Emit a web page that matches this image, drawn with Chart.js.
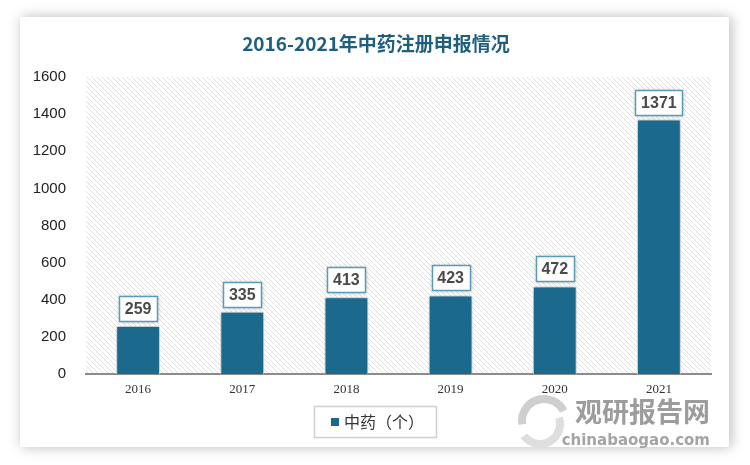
<!DOCTYPE html>
<html>
<head>
<meta charset="utf-8">
<script src="https://cdn.jsdelivr.net/npm/chart.js@4/dist/chart.umd.min.js"></script>
<style>
  html, body { margin: 0; padding: 0; background: #fff; }
  #wrap { position: relative; width: 750px; height: 465px; }
</style>
</head>
<body>
<div id="wrap"><canvas id="chart" width="750" height="465"></canvas></div>
<script>
// 数据
const years = ['2016', '2017', '2018', '2019', '2020', '2021'];
const tcmValues = [259, 335, 413, 423, 472, 1371];
const yTicks = [0, 200, 400, 600, 800, 1000, 1200, 1400, 1600];

const chartTitle = '2016-2021年中药注册申报情况';
const seriesName = '中药（个）';
const barColor = '#1b6a8e';

// 斜线底纹
function makeHatch() {
    const s = 5;
    const c = document.createElement('canvas');
    c.width = s; c.height = s;
    const g = c.getContext('2d');
    g.fillStyle = '#ffffff';
    g.fillRect(0, 0, s, s);
    g.strokeStyle = '#e0e0e0';
    g.lineWidth = 1;
    [-s, 0, s].forEach(x0 => {
        g.beginPath();
        g.moveTo(x0, 0);
        g.lineTo(x0 + s, s);
        g.stroke();
    });
    return c;
}

const backgroundPlugin = {
    id: 'background',
    beforeDraw(chart) {
        const ctx = chart.ctx;
        const a = chart.chartArea;
        ctx.save();
        ctx.fillStyle = '#ffffff';
        ctx.fillRect(0, 0, chart.width, chart.height);
        // 卡片阴影
        ctx.shadowColor = 'rgba(0,0,0,0.28)';
        ctx.shadowBlur = 12;
        ctx.shadowOffsetX = 2;
        ctx.fillRect(20, 17, 709, 430);
        ctx.shadowColor = 'transparent';
        ctx.fillStyle = ctx.createPattern(makeHatch(), 'repeat');
        ctx.fillRect(a.left, a.top, a.right - a.left, a.bottom - a.top);
        ctx.restore();
    }
};

const shadowPlugin = {
    id: 'barShadow',
    beforeDatasetDraw(chart) {
        const ctx = chart.ctx;
        ctx.save();
        ctx.shadowColor = 'rgba(0,0,0,0.35)';
        ctx.shadowBlur = 6;
    },
    afterDatasetDraw(chart) {
        chart.ctx.restore();
    }
};

const labelPlugin = {
    id: 'valueLabels',
    afterDatasetsDraw(chart) {
        const ctx = chart.ctx;
        const meta = chart.getDatasetMeta(0);
        ctx.save();
        ctx.font = 'bold 16px "Liberation Sans", Arial, sans-serif';
        ctx.textAlign = 'center';
        ctx.textBaseline = 'middle';
        meta.data.forEach((bar, i) => {
            const txt = String(tcmValues[i]);
            const w = Math.round(ctx.measureText(txt).width) + 11;
            const h = 25;
            const x = Math.round(bar.x - w / 2) + 0.5;
            const y = Math.round(bar.y - 5 - h) + 0.5;
            ctx.shadowColor = 'rgba(0,0,0,0.3)';
            ctx.shadowBlur = 5;
            ctx.fillStyle = '#ffffff';
            ctx.fillRect(x, y, w, h);
            ctx.shadowColor = 'transparent';
            ctx.strokeStyle = '#5b9bb8';
            ctx.lineWidth = 1.5;
            ctx.strokeRect(x, y, w, h);
            ctx.fillStyle = '#4a4a4a';
            ctx.fillText(txt, bar.x, y + h / 2 + 1);
        });
        ctx.restore();
    }
};

const decorPlugin = {
    id: 'decor',
    afterDraw(chart) {
        const ctx = chart.ctx;
        ctx.save();
        // 标题
        ctx.fillStyle = '#1e5f80';
        ctx.font = 'bold 19px "Noto Sans CJK SC", sans-serif';
        ctx.textAlign = 'center';
        ctx.textBaseline = 'middle';
        ctx.fillText(chartTitle, 376, 44);

        // 图例
        ctx.strokeStyle = '#d0d0d0';
        ctx.lineWidth = 1.5;
        ctx.strokeRect(314.5, 406.5, 122, 31);
        ctx.fillStyle = barColor;
        ctx.fillRect(331, 418, 8, 8);
        ctx.fillStyle = '#333333';
        ctx.font = '16px "Noto Sans CJK SC", sans-serif';
        ctx.textAlign = 'left';
        ctx.fillText(seriesName, 344, 422);

        // 水印
        ctx.strokeStyle = '#cfcfcf';
        ctx.lineWidth = 8;
        ctx.beginPath();
        ctx.arc(544, 421, 22, Math.PI * 0.95, Math.PI * 1.85);
        ctx.stroke();
        ctx.strokeStyle = '#dedede';
        ctx.beginPath();
        ctx.arc(540, 424, 20, Math.PI * -0.1, Math.PI * 0.8);
        ctx.stroke();
        ctx.fillStyle = '#9c9c9c';
        ctx.font = 'bold 27px "Noto Sans CJK SC", sans-serif';
        ctx.textAlign = 'right';
        ctx.fillText('观研报告网', 710, 412);
        ctx.fillStyle = '#a4a4a4';
        ctx.font = 'bold 15px "DejaVu Sans", sans-serif';
        ctx.fillText('chinabaogao.com', 710, 441);
        ctx.restore();
    }
};

new Chart(document.getElementById('chart'), {
    type: 'bar',
    data: {
        labels: years,
        datasets: [{
            label: seriesName,
            data: tcmValues,
            backgroundColor: barColor,
            borderColor: '#e6eef2',
            borderWidth: 1,
            barPercentage: 0.42,
            categoryPercentage: 1
        }]
    },
    options: {
        responsive: false,
        devicePixelRatio: 1,
        animation: false,
        layout: { padding: { top: 77, right: 39, left: 0, bottom: 0 } },
        plugins: {
            legend: { display: false },
            title: { display: false },
            tooltip: { enabled: false }
        },
        scales: {
            x: {
                grid: { display: false, drawTicks: false },
                border: { color: '#8c8c8c', width: 2 },
                ticks: {
                    padding: 8,
                    color: '#333333',
                    font: { family: '"Liberation Serif", serif', size: 13 }
                },
                afterFit: s => { s.height = 91; }
            },
            y: {
                min: 0,
                max: 1600,
                grid: { display: false, drawTicks: false },
                border: { display: false },
                afterBuildTicks: s => { s.ticks = yTicks.map(v => ({ value: v })); },
                ticks: {
                    padding: 20,
                    color: '#222222',
                    font: { family: '"Liberation Sans", Arial, sans-serif', size: 15 },
                    callback: v => String(v)
                },
                afterFit: s => { s.width = 86; }
            }
        }
    },
    plugins: [backgroundPlugin, shadowPlugin, labelPlugin, decorPlugin]
});
</script>
</body>
</html>
